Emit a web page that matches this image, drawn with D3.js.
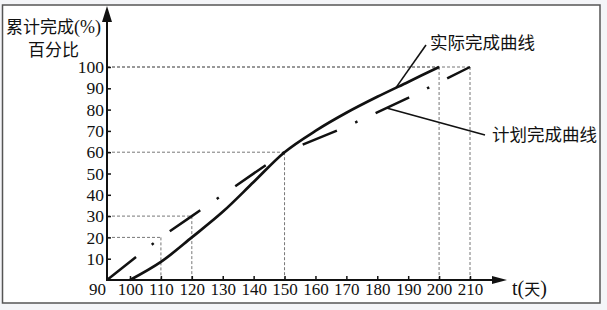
<!DOCTYPE html>
<html>
<head>
<meta charset="utf-8">
<script src="https://cdn.jsdelivr.net/npm/d3@7"></script>
<style>
  html, body { margin: 0; padding: 0; background: #f4f5f8; }
  svg { display: block; }
</style>
</head>
<body>
<div id="chart"></div>
<script>
// values
const xTicks = [90, 100, 110, 120, 130, 140, 150, 160, 170, 180, 190, 200, 210];
const yTicks = [10, 20, 30, 40, 50, 60, 70, 80, 90, 100];
const actualDays = [100, 110, 120, 130, 140, 150, 160, 170, 180, 190, 200];
const actualPct = [0, 8.5, 20, 32, 46, 60, 70, 78.5, 86, 93, 100];
const plannedDays = [90, 110, 120, 150, 170, 190, 210];
const plannedPct = [0, 20, 30, 60, 72, 85.5, 100];
const guideDays = [110, 120, 150, 200, 210];
const guidePct = [20, 30, 60, 100, 100];

const width = 607;
const height = 310;
const serif = "'Times New Roman', 'Liberation Serif', 'DejaVu Serif', serif";
const cjk = "'Noto Sans CJK SC', sans-serif";

// the origin is squeezed: 90 sits on the y axis
const x = d3.scaleLinear().domain([90, 100, 210]).range([107, 130, 470]);
const y = d3.scaleLinear().domain([0, 100]).range([280, 67]);

const svg = d3.select("#chart").append("svg")
  .attr("width", width)
  .attr("height", height);

svg.append("rect")
  .attr("x", 2.5).attr("y", 5)
  .attr("width", 597.5).attr("height", 298)
  .attr("fill", "#fff")
  .attr("stroke", "#555")
  .attr("stroke-width", 1.5);

// dotted guide lines
const guides = svg.append("g")
  .attr("stroke", "#777")
  .attr("stroke-width", 1)
  .attr("stroke-dasharray", "3,2")
  .attr("fill", "none");
guideDays.forEach((d, i) => {
  guides.append("line")
    .attr("x1", x(90)).attr("x2", x(d))
    .attr("y1", y(guidePct[i])).attr("y2", y(guidePct[i]));
  guides.append("line")
    .attr("x1", x(d)).attr("x2", x(d))
    .attr("y1", y(guidePct[i])).attr("y2", y(0));
});

// axes
const yAxis = svg.append("g")
  .attr("transform", `translate(${x(90)},0)`)
  .call(d3.axisLeft(y).tickValues(yTicks).tickSize(-4).tickPadding(3));
const xAxis = svg.append("g")
  .attr("transform", `translate(0,${y(0)})`)
  .call(d3.axisBottom(x).tickValues(xTicks).tickSize(-4).tickPadding(3));

[yAxis, xAxis].forEach(g => {
  g.attr("font-family", null);
  g.select(".domain").remove();
  g.selectAll(".tick line").attr("stroke", "#111").attr("stroke-width", 1.5);
  g.selectAll(".tick text")
    .attr("fill", "#111")
    .style("font-family", serif)
    .style("font-size", "17.5px");
});
xAxis.selectAll(".tick text").style("font-size", "17px");
xAxis.selectAll(".tick").filter(d => d === 90).select("line").remove();
xAxis.selectAll(".tick").filter(d => d === 90).select("text").attr("x", -10);

const axisCol = "#111";
svg.append("line")
  .attr("x1", x(90)).attr("x2", x(90))
  .attr("y1", y(0) + 1).attr("y2", 20)
  .attr("stroke", axisCol).attr("stroke-width", 2);
svg.append("path")
  .attr("d", `M${x(90)},6 L${x(90) - 5},22 L${x(90) + 5},22 Z`)
  .attr("fill", axisCol);
svg.append("line")
  .attr("x1", x(90) - 1).attr("x2", 495)
  .attr("y1", y(0)).attr("y2", y(0))
  .attr("stroke", axisCol).attr("stroke-width", 2);
svg.append("path")
  .attr("d", `M507,${y(0)} L492,${y(0) - 4} L492,${y(0) + 4} Z`)
  .attr("fill", axisCol);

// curves
const actual = actualDays.map((d, i) => [d, actualPct[i]]);
const planned = plannedDays.map((d, i) => [d, plannedPct[i]]);

svg.append("path")
  .datum(planned)
  .attr("fill", "none")
  .attr("stroke", "#111")
  .attr("stroke-width", 2.5)
  .attr("stroke-dasharray", "37,20,2.5,20")
  .attr("d", d3.line().x(d => x(d[0])).y(d => y(d[1])));

svg.append("path")
  .datum(actual)
  .attr("fill", "none")
  .attr("stroke", "#111")
  .attr("stroke-width", 2.7)
  .attr("d", d3.line().curve(d3.curveCatmullRom.alpha(0.5)).x(d => x(d[0])).y(d => y(d[1])));

// labels and leaders
const actualAt = 186, plannedAt = 183;
const interp = (days, pct, t) => d3.scaleLinear().domain(days).range(pct)(t);
svg.append("line")
  .attr("x1", x(actualAt)).attr("y1", y(interp(actualDays, actualPct, actualAt)))
  .attr("x2", 426).attr("y2", 45)
  .attr("stroke", "#111").attr("stroke-width", 1.6);
svg.append("line")
  .attr("x1", x(plannedAt)).attr("y1", y(interp(plannedDays, plannedPct, plannedAt)))
  .attr("x2", 485).attr("y2", 135)
  .attr("stroke", "#111").attr("stroke-width", 1.6);

svg.append("text")
  .attr("x", 430).attr("y", 49)
  .style("font-family", cjk).style("font-size", "17.5px")
  .attr("fill", "#111")
  .text("实际完成曲线");
svg.append("text")
  .attr("x", 492).attr("y", 141)
  .style("font-family", cjk).style("font-size", "17.5px")
  .attr("fill", "#111")
  .text("计划完成曲线");

const title = svg.append("text")
  .attr("x", 6).attr("y", 33)
  .attr("fill", "#111")
  .style("font-family", cjk).style("font-size", "17px");
title.append("tspan").text("累计完成");
title.append("tspan").style("font-family", serif).style("font-size", "18px").text("(%)");
svg.append("text")
  .attr("x", 28).attr("y", 56)
  .attr("fill", "#111")
  .style("font-family", cjk).style("font-size", "17px")
  .text("百分比");

const tLabel = svg.append("text")
  .attr("x", 512).attr("y", 295)
  .attr("fill", "#111")
  .style("font-family", serif).style("font-size", "20px");
tLabel.append("tspan").text("t(");
tLabel.append("tspan").style("font-family", cjk).style("font-size", "16px").text("天");
tLabel.append("tspan").text(")");
</script>
</body>
</html>
